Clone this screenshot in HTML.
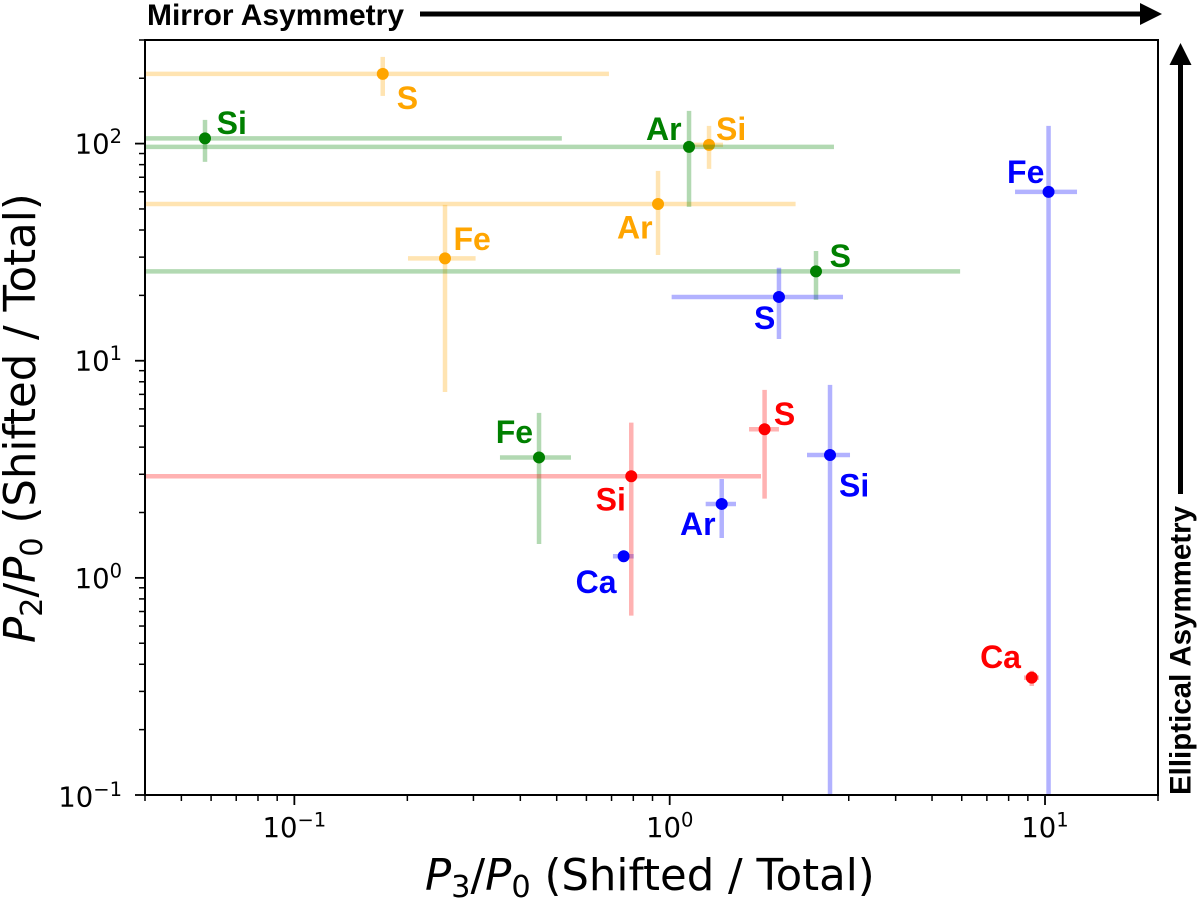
<!DOCTYPE html>
<html lang="en">
<head>
<meta charset="utf-8">
<title>Asymmetry scatter chart</title>
<style>
  html, body { margin: 0; padding: 0; background: #fff; }
  svg { display: block; }
  .tick-label { font-family: "DejaVu Sans", sans-serif; font-size: 27.5px; fill: #000; }
  .axis-title { font-family: "DejaVu Sans", sans-serif; font-size: 43.4px; fill: #000; }
  .annot { font-family: "Liberation Sans", sans-serif; font-weight: bold; font-size: 30px; fill: #000; }
  .element-label { font-family: "Liberation Sans", sans-serif; font-weight: bold; font-size: 32px; }
</style>
</head>
<body>
<svg id="chart" xmlns="http://www.w3.org/2000/svg" width="1200" height="900" viewBox="0 0 1200 900">
  <defs>
    <clipPath id="plot-clip"><rect x="145" y="40" width="1013" height="755"></rect></clipPath>
  </defs>
  <g id="marks"></g>
  <g id="ticks"></g>
  <rect x="145" y="40" width="1013" height="755" fill="none" stroke="#000" stroke-width="2"></rect>

  <text class="axis-title" x="425" y="890"><tspan font-style="italic">P</tspan><tspan font-size="30.4" dy="7">3</tspan><tspan dy="-7">/</tspan><tspan font-style="italic">P</tspan><tspan font-size="30.4" dy="7">0</tspan><tspan dy="-7"> (Shifted / Total)</tspan></text>
  <text class="axis-title" transform="translate(35 643) rotate(-90)"><tspan font-style="italic">P</tspan><tspan font-size="30.4" dy="7">2</tspan><tspan dy="-7">/</tspan><tspan font-style="italic">P</tspan><tspan font-size="30.4" dy="7">0</tspan><tspan dy="-7"> (Shifted / Total)</tspan></text>

  <text class="annot" x="147" y="25" textLength="257" lengthAdjust="spacingAndGlyphs">Mirror Asymmetry</text>
  <line x1="420" y1="14" x2="1142" y2="14" stroke="#000" stroke-width="5"></line>
  <polygon points="1140,3 1162,14 1140,25" fill="#000"></polygon>

  <text class="annot" transform="translate(1190.7 795) rotate(-90)" textLength="289" lengthAdjust="spacingAndGlyphs">Elliptical Asymmetry</text>
  <line x1="1180.5" y1="494" x2="1180.5" y2="63" stroke="#000" stroke-width="5"></line>
  <polygon points="1169.5,65 1180.5,43 1191.5,65" fill="#000"></polygon>
</svg>

<script>
// Data values (lower/upper error-bar ends in data units)
const orangeElements = ['S', 'Si', 'Ar', 'Fe'];
const orangeX   = [0.172, 1.273, 0.931, 0.252];
const orangeXLo = [0.01, 1.161, 0.01, 0.2008];
const orangeXHi = [0.689, 1.387, 2.165, 0.304];
const orangeY   = [209.4, 98.6, 52.7, 29.6];
const orangeYLo = [165.8, 76.5, 30.7, 7.18];
const orangeYHi = [250.8, 120.7, 74.9, 52.2];

const greenElements = ['Si', 'Ar', 'S', 'Fe'];
const greenX   = [0.0578, 1.126, 2.454, 0.4486];
const greenXLo = [0.01, 0.01, 0.01, 0.353];
const greenXHi = [0.516, 2.74, 5.94, 0.5458];
const greenY   = [105.7, 96.6, 25.8, 3.586];
const greenYLo = [82.4, 51.1, 19.06, 1.433];
const greenYHi = [128.6, 141.5, 32.0, 5.75];

const blueElements = ['Fe', 'S', 'Si', 'Ar', 'Ca'];
const blueX   = [10.22, 1.955, 2.674, 1.376, 0.754];
const blueXLo = [8.32, 1.012, 2.322, 1.247, 0.706];
const blueXHi = [12.17, 2.896, 3.023, 1.502, 0.802];
const blueY   = [59.9, 19.67, 3.682, 2.19, 1.257];
const blueYLo = [0.05, 12.6, 0.05, 1.527, 1.196];
const blueYHi = [120.7, 26.8, 7.74, 2.855, 1.33];

const redElements = ['S', 'Si', 'Ca'];
const redX   = [1.79, 0.79, 9.22];
const redXLo = [1.627, 0.01, 8.79];
const redXHi = [1.955, 1.751, 9.64];
const redY   = [4.835, 2.938, 0.347];
const redYLo = [2.316, 0.67, 0.3177];
const redYHi = [7.34, 5.187, 0.3736];

const xTickExponents = ['\u22121', '0', '1'];
const yTickExponents = ['\u22121', '0', '1', '2'];
const xMajorTicks = [0.1, 1, 10];
const yMajorTicks = [0.1, 1, 10, 100];
const xMinorTicks = [0.04, 0.05, 0.06, 0.07, 0.08, 0.09, 0.2, 0.3, 0.4, 0.5, 0.6, 0.7, 0.8, 0.9, 2, 3, 4, 5, 6, 7, 8, 9, 20];
const yMinorTicks = [0.2, 0.3, 0.4, 0.5, 0.6, 0.7, 0.8, 0.9, 2, 3, 4, 5, 6, 7, 8, 9, 20, 30, 40, 50, 60, 70, 80, 90, 200, 300];

// Axis functions
const X_MIN = 0.04, X_MAX = 20, Y_MIN = 0.1, Y_MAX = 300;
const LEFT = 145, RIGHT = 1158, TOP = 40, BOTTOM = 795;
function xScale(v) {
  return LEFT + (Math.log10(v) - Math.log10(X_MIN)) / (Math.log10(X_MAX) - Math.log10(X_MIN)) * (RIGHT - LEFT);
}
function yScale(v) {
  return BOTTOM - (Math.log10(v) - Math.log10(Y_MIN)) / (Math.log10(Y_MAX) - Math.log10(Y_MIN)) * (BOTTOM - TOP);
}

const NS = 'http://www.w3.org/2000/svg';
const marks = document.getElementById('marks');
const ticks = document.getElementById('ticks');

function make(tag, attrs, parent) {
  const el = document.createElementNS(NS, tag);
  for (const k in attrs) el.setAttribute(k, attrs[k]);
  parent.appendChild(el);
  return el;
}

// Label placement relative to each point (pixels), layout only
const labelLayout = {
  orange: { S: [14, 35], Si: [7, -5], Ar: [-41, 34.7], Fe: [8.5, -8.5] },
  green: { Si: [11.6, -4.5], Ar: [-43, -7], S: [13.6, -4.5], Fe: [-43.3, -14.2] },
  blue: { Fe: [-41.5, -9], S: [-25, 32], Si: [9, 41.7], Ar: [-41.7, 31], Ca: [-48, 36.7] },
  red: { S: [9.3, -4.3], Si: [-35.6, 34.4], Ca: [-51.7, -9.7] }
};

function drawSeries(key, color, elements, xs, xLo, xHi, ys, yLo, yHi) {
  const group = make('g', {}, marks);
  
  
  elements.forEach(function (name, i) {
    const px = xScale(xs[i]);
    const py = yScale(ys[i]);

    const xBar = make('line', {
      x1: xScale(xLo[i]), x2: xScale(xHi[i]), y1: py, y2: py,
      stroke: color, 'stroke-width': 4.5, 'stroke-opacity': 0.3, 'clip-path': 'url(#plot-clip)'
    }, group);
    
    

    const yBar = make('line', {
      x1: px, x2: px, y1: yScale(yLo[i]), y2: yScale(yHi[i]),
      stroke: color, 'stroke-width': 4.5, 'stroke-opacity': 0.3, 'clip-path': 'url(#plot-clip)'
    }, group);
    
    
  });
  elements.forEach(function (name, i) {
    const px = xScale(xs[i]);
    const py = yScale(ys[i]);

    const dot = make('circle', { cx: px, cy: py, r: 6, fill: color }, group);
    
    

    const off = labelLayout[key][name];
    const label = make('text', { x: px + off[0], y: py + off[1], fill: color, class: 'element-label' }, group);
    label.textContent = name;
    
    
  });
}

drawSeries('orange', '#ffa500', orangeElements, orangeX, orangeXLo, orangeXHi, orangeY, orangeYLo, orangeYHi);
drawSeries('green', '#008000', greenElements, greenX, greenXLo, greenXHi, greenY, greenYLo, greenYHi);
drawSeries('blue', '#0000ff', blueElements, blueX, blueXLo, blueXHi, blueY, blueYLo, blueYHi);
drawSeries('red', '#ff0000', redElements, redX, redXLo, redXHi, redY, redYLo, redYHi);

// Ticks
function powerLabel(exponent, x, y, anchor) {
  const t = make('text', { x: x, y: y, 'text-anchor': anchor, class: 'tick-label' }, ticks);
  const base = make('tspan', {}, t);
  base.textContent = '10';
  const sup = make('tspan', { 'font-size': 19.5, dy: -10.5 }, t);
  sup.textContent = exponent;
  return t;
}

xMinorTicks.forEach(function (v) {
  const tick = make('line', { x1: xScale(v), x2: xScale(v), y1: BOTTOM, y2: BOTTOM + 6, stroke: '#000', 'stroke-width': 1.5 }, ticks);
  
  
});
yMinorTicks.forEach(function (v) {
  const tick = make('line', { x1: LEFT - 6, x2: LEFT, y1: yScale(v), y2: yScale(v), stroke: '#000', 'stroke-width': 1.5 }, ticks);
  
  
});
xMajorTicks.forEach(function (v, i) {
  const tick = make('line', { x1: xScale(v), x2: xScale(v), y1: BOTTOM, y2: BOTTOM + 10, stroke: '#000', 'stroke-width': 1.8 }, ticks);
  
  
  const label = powerLabel(xTickExponents[i], xScale(v), 837, 'middle');
  
  
});
yMajorTicks.forEach(function (v, i) {
  const tick = make('line', { x1: LEFT - 10, x2: LEFT, y1: yScale(v), y2: yScale(v), stroke: '#000', 'stroke-width': 1.8 }, ticks);
  
  
  const shift = v < 1 ? 11.5 : 10;
  const label = powerLabel(yTickExponents[i], 122, yScale(v) + shift, 'end');
  
  
});
</script>
</body>
</html>
